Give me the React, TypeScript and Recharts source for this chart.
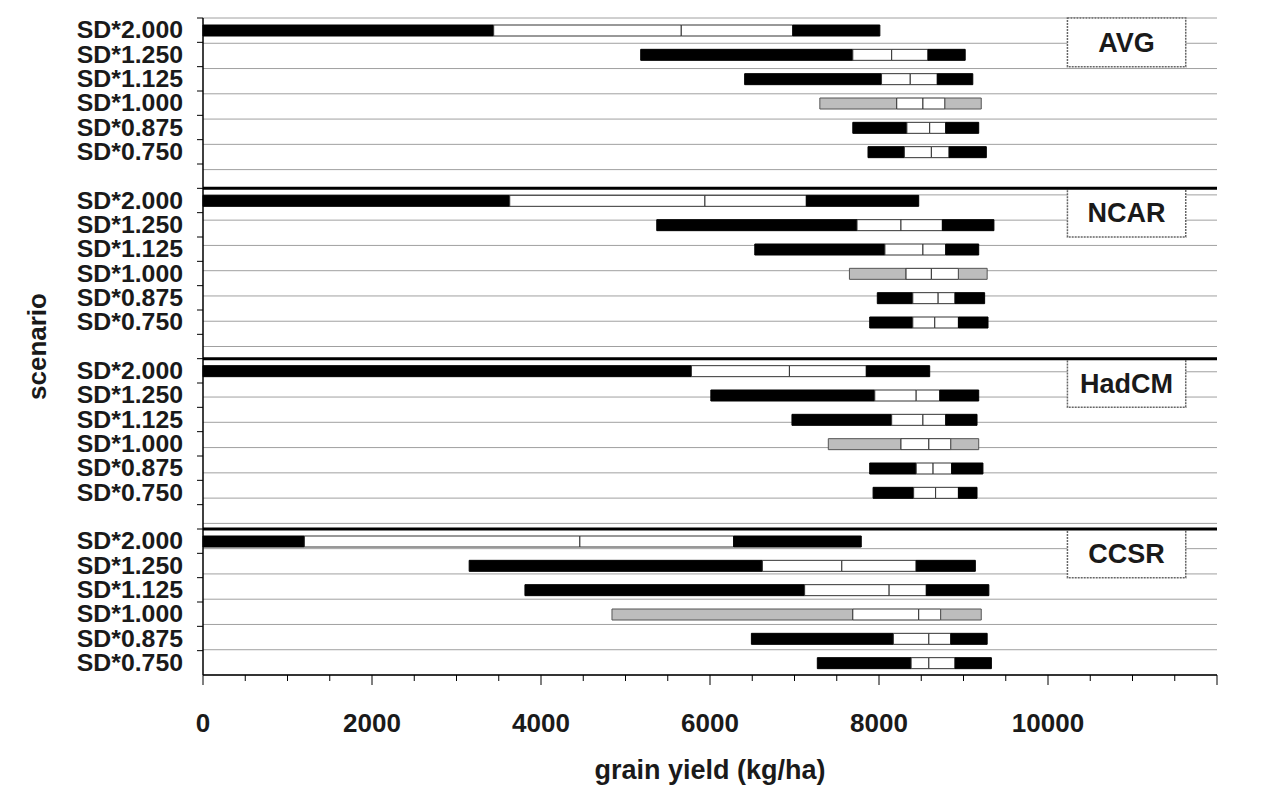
import React from "react";
import {
  BarChart,
  Bar,
  XAxis,
  YAxis,
  CartesianGrid,
  ReferenceLine,
  ReferenceArea,
  Cell,
} from "recharts";

const panels = ["AVG", "NCAR", "HadCM", "CCSR"];
const scenarios = ["SD*2.000", "SD*1.250", "SD*1.125", "SD*1.000", "SD*0.875", "SD*0.750"];
const baseScenario = "SD*1.000";

// min, 25%, median, 75%, max grain yield (kg/ha) per scenario
const avg = [
  [0, 3440, 5660, 6980, 8010],
  [5180, 7690, 8150, 8580, 9020],
  [6410, 8030, 8370, 8690, 9110],
  [7300, 8210, 8520, 8780, 9210],
  [7690, 8330, 8600, 8790, 9180],
  [7870, 8300, 8620, 8830, 9270],
];
const ncar = [
  [0, 3630, 5940, 7140, 8470],
  [5370, 7740, 8260, 8750, 9360],
  [6530, 8070, 8520, 8790, 9180],
  [7650, 8320, 8620, 8940, 9280],
  [7980, 8400, 8700, 8900, 9250],
  [7890, 8400, 8660, 8940, 9290],
];
const hadcm = [
  [0, 5780, 6940, 7850, 8600],
  [6010, 7950, 8440, 8720, 9180],
  [6970, 8150, 8520, 8790, 9160],
  [7400, 8260, 8590, 8850, 9180],
  [7890, 8440, 8640, 8860, 9230],
  [7930, 8410, 8670, 8940, 9160],
];
const ccsr = [
  [0, 1200, 4460, 6280, 7790],
  [3150, 6620, 7560, 8440, 9140],
  [3810, 7120, 8120, 8560, 9300],
  [4840, 7690, 8470, 8730, 9210],
  [6490, 8170, 8590, 8850, 9280],
  [7270, 8380, 8590, 8900, 9330],
];
const panelData = [avg, ncar, hadcm, ccsr];

const xTicks = [
  0, 500, 1000, 1500, 2000, 2500, 3000, 3500, 4000, 4500, 5000, 5500, 6000,
  6500, 7000, 7500, 8000, 8500, 9000, 9500, 10000, 10500, 11000, 11500, 12000,
];
const xLabelTicks = [0, 2000, 4000, 6000, 8000, 10000];
const gridX = [2000, 4000, 6000, 8000, 10000];
const boxX = [10230, 11630];

type Row = {
  id: string;
  label: string;
  gray: boolean;
  base?: number;
  lw?: number;
  b1?: number;
  b2?: number;
  hw?: number;
};

const rows: Row[] = [];
panels.forEach((p, pi) => {
  panelData[pi].forEach(([mn, q1, md, q3, mx], i) => {
    rows.push({
      id: `${p}-${i}`,
      label: scenarios[i],
      gray: scenarios[i] === baseScenario,
      base: mn,
      lw: q1 - mn,
      b1: md - q1,
      b2: q3 - md,
      hw: mx - q3,
    });
  });
  if (pi < panels.length - 1) rows.push({ id: `${p}-gap`, label: "", gray: false });
});
const labelOf: Record<string, string> = {};
rows.forEach((r) => (labelOf[r.id] = r.label));
// row boundaries on a helper numeric axis (0 = top)
const rowBounds = rows.map((_, i) => i);

const W = 1259;
const H = 778;
const MARGIN = { top: 10, right: 50, bottom: 0, left: 0 };
const X_AXIS_H = 111;
const Y_AXIS_W = 195;
const BAND = (H - MARGIN.top - MARGIN.bottom - X_AXIS_H) / rows.length;
const FONT = "'Liberation Sans', Arial, sans-serif";

const YTick = (props: any) => {
  const { x, y, payload } = props;
  return (
    <g>
      <line x1={x - 6} x2={x} y1={y - BAND / 2} y2={y - BAND / 2} stroke="#000" />
      <g transform={`translate(${x - 20},${y}) scale(1.08,1)`}>
        <text
          x={0}
          y={0}
          dy="0.36em"
          textAnchor="end"
          fontSize={23}
          fontWeight="bold"
          fontFamily={FONT}
          fill="#1a1a1a"
        >
          {labelOf[payload.value] ?? ""}
        </text>
      </g>
    </g>
  );
};

const XTick = (props: any) => {
  const { x, y, payload } = props;
  const v = payload.value;
  const major = v % 2000 === 0;
  return (
    <g>
      <line x1={x} x2={x} y1={y} y2={y + (major ? 10 : 6)} stroke="#000" />
      {xLabelTicks.includes(v) && (
        <text
          x={x}
          y={y + 57}
          textAnchor="middle"
          fontSize={26}
          fontWeight="bold"
          fontFamily={FONT}
          fill="#1a1a1a"
        >
          {v}
        </text>
      )}
    </g>
  );
};

export default function App() {
  return (
    <div style={{ background: "#fff", width: W }}>
      <BarChart
        width={W}
        height={H}
        data={rows}
        layout="vertical"
        margin={MARGIN}
        barSize={11}
      >
        <CartesianGrid
          xAxisId="grid"
          yAxisId="grid"
          horizontal={false}
          verticalValues={gridX}
          stroke="#c4c4c4"
        />
        <CartesianGrid
          xAxisId="grid"
          yAxisId="grid"
          vertical={false}
          stroke="#a0a0a0"
        />
        <XAxis
          xAxisId="grid"
          type="number"
          domain={[0, 12000]}
          ticks={gridX}
          hide
        />
        <YAxis
          yAxisId="grid"
          type="number"
          domain={[0, rows.length]}
          ticks={rowBounds}
          reversed
          hide
        />
        <XAxis
          type="number"
          domain={[0, 12000]}
          ticks={xTicks}
          interval={0}
          height={X_AXIS_H}
          tickSize={0}
          tickMargin={0}
          tickLine={false}
          tick={<XTick />}
          axisLine={{ stroke: "#000", strokeWidth: 1.5 }}
          label={{
            content: (p: any) => (
              <text
                x={p.viewBox.x + p.viewBox.width / 2}
                y={p.viewBox.y + 104}
                textAnchor="middle"
                fontSize={27}
                fontWeight="bold"
                fontFamily={FONT}
                fill="#1a1a1a"
              >
                grain yield (kg/ha)
              </text>
            ),
          }}
        />
        <YAxis
          type="category"
          dataKey="id"
          width={Y_AXIS_W}
          interval={0}
          tickSize={0}
          tickMargin={0}
          tickLine={false}
          tick={<YTick />}
          axisLine={{ stroke: "#000", strokeWidth: 1.5 }}
          label={{
            content: (p: any) => {
              const cx = p.viewBox.x + 38;
              const cy = p.viewBox.y + p.viewBox.height / 2;
              return (
                <text
                  x={cx}
                  y={cy}
                  transform={`rotate(-90 ${cx} ${cy})`}
                  textAnchor="middle"
                  fontSize={26}
                  fontWeight="bold"
                  fontFamily={FONT}
                  fill="#1a1a1a"
                >
                  scenario
                </text>
              );
            },
          }}
        />
        {panels.slice(1).map((p) => (
          <ReferenceLine
            key={p}
            y={`${p}-0`}
            position="start"
            stroke="#000"
            strokeWidth={3}
          />
        ))}
        {panels.map((p) => (
          <ReferenceArea
            key={p}
            x1={boxX[0]}
            x2={boxX[1]}
            y1={`${p}-0`}
            y2={`${p}-1`}
            fill="#fff"
            fillOpacity={1}
            stroke="#666"
            strokeWidth={1.5}
            strokeDasharray="2 1"
            label={{
              value: p,
              position: "center",
              fontSize: 27,
              fontWeight: "bold",
              fontFamily: FONT,
              fill: "#1a1a1a",
            }}
          />
        ))}
        <Bar dataKey="base" stackId="s" fill="transparent" isAnimationActive={false} />
        <Bar dataKey="lw" stackId="s" isAnimationActive={false}>
          {rows.map((r) => (
            <Cell
              key={r.id}
              fill={r.gray ? "#bdbdbd" : "#000"}
              stroke={r.gray ? "#555" : "#000"}
            />
          ))}
        </Bar>
        <Bar dataKey="b1" stackId="s" fill="#fff" stroke="#333" isAnimationActive={false} />
        <Bar dataKey="b2" stackId="s" fill="#fff" stroke="#333" isAnimationActive={false} />
        <Bar dataKey="hw" stackId="s" isAnimationActive={false}>
          {rows.map((r) => (
            <Cell
              key={r.id}
              fill={r.gray ? "#bdbdbd" : "#000"}
              stroke={r.gray ? "#555" : "#000"}
            />
          ))}
        </Bar>
      </BarChart>
    </div>
  );
}
